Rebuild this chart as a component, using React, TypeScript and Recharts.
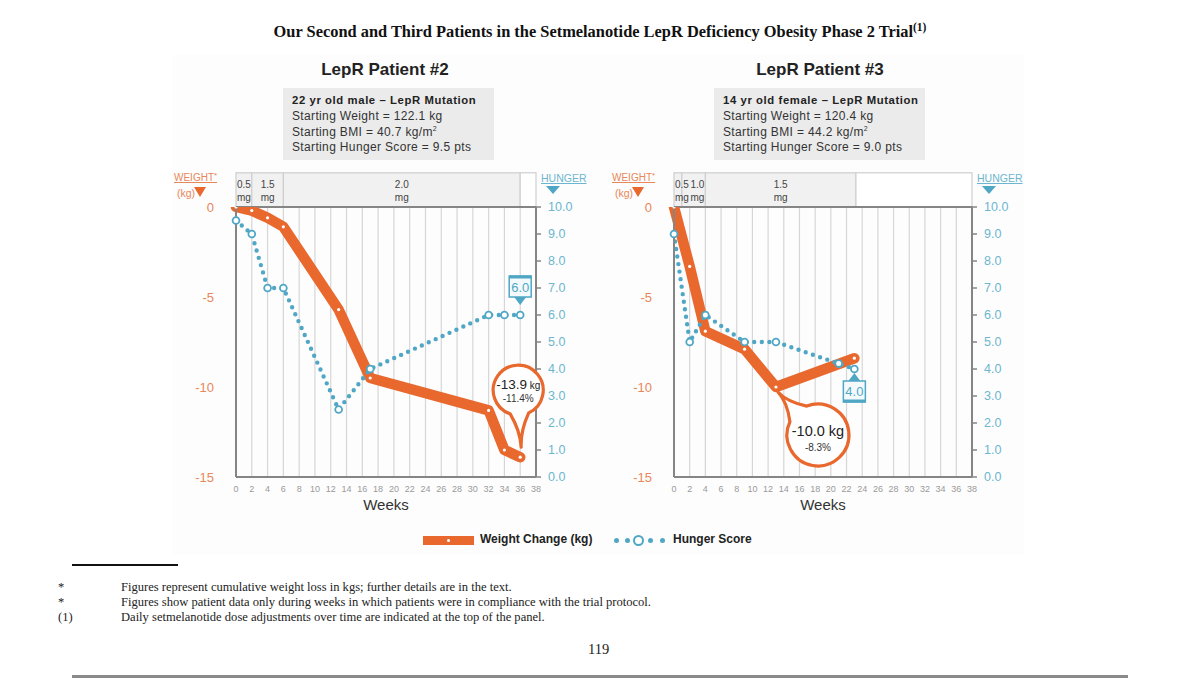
import React from 'react';
import {
  ComposedChart,
  Line,
  XAxis,
  YAxis,
  CartesianGrid,
  ReferenceArea,
  ReferenceDot,
  ReferenceLine,
} from 'recharts';

// ---------- data ----------
const weekTicks = [0, 2, 4, 6, 8, 10, 12, 14, 16, 18, 20, 22, 24, 26, 28, 30, 32, 34, 36, 38];
const weightTicks = [-15, -10, -5, 0];
const hungerTicks = [0, 1, 2, 3, 4, 5, 6, 7, 8, 9, 10];

// Patient #2
const p2WeightWeeks = [0, 2, 4, 6, 13, 17, 32, 34, 36];
const p2Weight = [0, -0.2, -0.6, -1.1, -5.7, -9.5, -11.3, -13.5, -13.9];
const p2HungerWeeks = [0, 2, 4, 6, 13, 17, 32, 34, 36];
const p2Hunger = [9.5, 9.0, 7.0, 7.0, 2.5, 4.0, 6.0, 6.0, 6.0];
const p2DoseBreaks = [0, 2, 6, 36];
const p2DoseLabels = ['0.5', '1.5', '2.0'];

// Patient #3
const p3WeightWeeks = [0, 2, 4, 9, 13, 23];
const p3Weight = [0, -3.3, -6.9, -7.9, -10.0, -8.4];
const p3HungerWeeks = [0, 2, 4, 9, 13, 21, 23];
const p3Hunger = [9.0, 5.0, 6.0, 5.0, 5.0, 4.2, 4.0];
const p3DoseBreaks = [0, 1, 4, 23.2];
const p3DoseLabels = ['0.5', '1.0', '1.5'];

const p2Info = [
  '22 yr old male \u2013 LepR Mutation',
  'Starting Weight = 122.1 kg',
  'Starting BMI = 40.7 kg/m',
  'Starting Hunger Score = 9.5 pts',
];
const p3Info = [
  '14 yr old female \u2013 LepR Mutation',
  'Starting Weight = 120.4 kg',
  'Starting BMI = 44.2 kg/m',
  'Starting Hunger Score = 9.0 pts',
];

// ---------- styles ----------
const ORANGE = '#e8682d';
const ORANGE_LIGHT = '#e8875a';
const TEAL = '#4fa7c5';
const TEAL_LIGHT = '#6cb6cf';
const AXIS = '#858585';
const FONT = '"Liberation Sans", Arial, sans-serif';
const SERIF = '"Liberation Serif", "Times New Roman", serif';
const BAND_TOP = 1.9; // kg above zero where dose band ends

function mergeData(wWeeks: number[], w: number[], hWeeks: number[], h: number[]) {
  const set = Array.from(new Set([...wWeeks, ...hWeeks])).sort((a, b) => a - b);
  return set.map((week) => {
    const wi = wWeeks.indexOf(week);
    const hi = hWeeks.indexOf(week);
    return {
      week,
      weight: wi >= 0 ? w[wi] : null,
      hunger: hi >= 0 ? h[hi] : null,
    };
  });
}

function bubblePath(R: number, tx: number, ty: number, half: number) {
  const ang = Math.atan2(ty, tx);
  const a1 = ang - half;
  const a2 = ang + half;
  const p1 = [R * Math.cos(a1), R * Math.sin(a1)];
  const p2 = [R * Math.cos(a2), R * Math.sin(a2)];
  const axis = [R * Math.cos(ang), R * Math.sin(ang)];
  const c = [(axis[0] + tx) / 2, (axis[1] + ty) / 2];
  return `M ${p2[0]} ${p2[1]} A ${R} ${R} 0 1 1 ${p1[0]} ${p1[1]} Q ${c[0]} ${c[1]} ${tx} ${ty} Q ${c[0]} ${c[1]} ${p2[0]} ${p2[1]} Z`;
}

type Callout = {
  week: number;
  value: number;
  kg: string;
  pct: string;
  dx: number;
  dy: number;
  R: number;
  tipX: number;
  tipY: number;
  big: boolean;
};

type HBox = { week: number; value: number; text: string; above: boolean };

function WeightCallout(props: any, c: Callout) {
  const { cx, cy } = props;
  if (cx == null || cy == null) return <g />;
  const ox = cx + c.dx;
  const oy = cy + c.dy;
  return (
    <g transform={`translate(${ox},${oy})`}>
      <path d={bubblePath(c.R, c.tipX, c.tipY, 0.38)} fill="#fff" stroke={ORANGE} strokeWidth={3.2} strokeLinejoin="round" />
      {c.big ? (
        <>
          <text x={0} y={1} textAnchor="middle" fontFamily={FONT} fontSize={14.5} fill="#222">
            {c.kg}
          </text>
          <text x={0} y={16} textAnchor="middle" fontFamily={FONT} fontSize={10} fill="#333">
            {c.pct}
          </text>
        </>
      ) : (
        <>
          <text x={0} y={-1} textAnchor="middle" fontFamily={FONT} fontSize={13.5} fill="#222">
            {c.kg.replace(' kg', '')}
            <tspan fontSize={10}> kg</tspan>
          </text>
          <text x={0} y={12} textAnchor="middle" fontFamily={FONT} fontSize={10} fill="#333">
            {c.pct}
          </text>
        </>
      )}
    </g>
  );
}

function HungerBox(props: any, b: HBox) {
  const { cx, cy } = props;
  if (cx == null || cy == null) return <g />;
  const w = 22;
  const h = 21;
  if (b.above) {
    const top = cy - 39;
    return (
      <g>
        <polygon points={`${cx - 6},${top + h} ${cx + 6},${top + h} ${cx},${top + h + 8}`} fill={TEAL} />
        <rect x={cx - w / 2} y={top} width={w} height={h} fill="#f4fafc" stroke={TEAL} strokeWidth={1.5} />
        <line x1={cx - w / 2} x2={cx + w / 2} y1={top + 1} y2={top + 1} stroke={TEAL} strokeWidth={3} />
        <text x={cx} y={top + 15.5} textAnchor="middle" fontFamily={FONT} fontSize={13} fill={TEAL}>
          {b.text}
        </text>
      </g>
    );
  }
  const top = cy + 12;
  return (
    <g>
      <polygon points={`${cx - 6},${top} ${cx + 6},${top} ${cx},${top - 8}`} fill={TEAL} />
      <rect x={cx - w / 2} y={top} width={w} height={h} fill="#f4fafc" stroke={TEAL} strokeWidth={1.5} />
      <line x1={cx - w / 2} x2={cx + w / 2} y1={top + h - 1} y2={top + h - 1} stroke={TEAL} strokeWidth={3} />
      <text x={cx} y={top + 15} textAnchor="middle" fontFamily={FONT} fontSize={13} fill={TEAL}>
        {b.text}
      </text>
    </g>
  );
}

function DoseRect(props: any, filled: boolean) {
  const { x, y, width, height } = props;
  if (x == null) return <g />;
  return <rect x={x} y={y} width={width} height={height} fill={filled ? '#f1f1f1' : '#ffffff'} stroke="#cfcfcf" strokeWidth={1.2} />;
}

function DoseText(props: any, label: string) {
  const { x, y, width } = props;
  if (x == null) return <g />;
  let anchor: 'start' | 'middle' | 'end' = 'middle';
  let tx = x + width / 2;
  if (width < 12) {
    anchor = 'start';
    tx = x + 1;
  } else if (width < 28) {
    anchor = 'end';
    tx = x + width - 1;
  }
  return (
    <g>
      <text x={tx} y={y + 15} textAnchor={anchor} fontFamily={FONT} fontSize={10} fill="#444">
        {label}
      </text>
      <text x={tx} y={y + 28} textAnchor={anchor} fontFamily={FONT} fontSize={10} fill="#444">
        mg
      </text>
    </g>
  );
}

const weightDot = (props: any) => {
  const { cx, cy, index } = props;
  if (cx == null || cy == null || props.value == null) return <g key={`wd${index}`} />;
  return <circle key={`wd${index}`} cx={cx} cy={cy} r={1.6} fill="#fff" />;
};
const hungerDot = (props: any) => {
  const { cx, cy, index } = props;
  if (cx == null || cy == null || props.value == null) return <g key={`hd${index}`} />;
  return <circle key={`hd${index}`} cx={cx} cy={cy} r={3.4} fill="#fff" stroke={TEAL} strokeWidth={1.8} />;
};

type PanelProps = {
  left: number;
  width: number;
  marginLeft: number;
  marginRight: number;
  data: any[];
  doseBreaks: number[];
  doseLabels: string[];
  callout: Callout;
  hbox: HBox;
};

function Panel(p: PanelProps) {
  const bands: { x1: number; x2: number; label: string | null }[] = [];
  for (let i = 0; i < p.doseLabels.length; i++) {
    bands.push({ x1: p.doseBreaks[i], x2: p.doseBreaks[i + 1], label: p.doseLabels[i] });
  }
  bands.push({ x1: p.doseBreaks[p.doseBreaks.length - 1], x2: 38, label: null });
  const plotLeft = p.left + p.marginLeft + 60;
  const plotRight = p.left + p.width - p.marginRight - 54;
  return (
    <>
      <div style={{ position: 'absolute', left: p.left, top: 160 }}>
        <ComposedChart
          width={p.width}
          height={370}
          data={p.data}
          margin={{ top: 47, right: p.marginRight, bottom: 13, left: p.marginLeft }}
        >
          <CartesianGrid vertical horizontal={false} stroke="#d6d6d6" strokeWidth={1.2} />
          <XAxis
            dataKey="week"
            type="number"
            domain={[0, 38]}
            ticks={weekTicks}
            interval={0}
            height={40}
            tickLine={false}
            axisLine={{ stroke: AXIS, strokeWidth: 2 }}
            tick={{ fontSize: 9, fill: '#9a9a9a', fontFamily: FONT }}
            tickMargin={3}
            label={{ value: 'Weeks', position: 'insideBottom', offset: 7, fontSize: 15, fill: '#333', fontFamily: FONT }}
          />
          <YAxis
            yAxisId="w"
            orientation="left"
            domain={[-15, 0]}
            ticks={weightTicks}
            width={60}
            tickLine={false}
            tickSize={8}
            tickMargin={14}
            axisLine={{ stroke: AXIS, strokeWidth: 2 }}
            tick={{ fontSize: 13, fill: ORANGE_LIGHT, fontFamily: FONT }}
            allowDataOverflow
          />
          <YAxis
            yAxisId="h"
            orientation="right"
            domain={[0, 10]}
            ticks={hungerTicks}
            width={54}
            tickSize={5}
            tickMargin={7}
            tickLine={{ stroke: AXIS, strokeWidth: 1.5 }}
            axisLine={{ stroke: AXIS, strokeWidth: 2 }}
            tick={{ fontSize: 12.5, fill: TEAL_LIGHT, fontFamily: FONT }}
            tickFormatter={(v: number) => v.toFixed(1)}
          />
          {bands.map((b, i) => (
            <ReferenceArea
              key={`band${i}`}
              yAxisId="w"
              x1={b.x1}
              x2={b.x2}
              y1={0}
              y2={BAND_TOP}
              ifOverflow="visible"
              shape={(sp: any) => DoseRect(sp, b.label != null)}
            />
          ))}
          {bands
            .filter((b) => b.label != null)
            .map((b, i) => (
              <ReferenceArea
                key={`bandtxt${i}`}
                yAxisId="w"
                x1={b.x1}
                x2={b.x2}
                y1={0}
                y2={BAND_TOP}
                ifOverflow="visible"
                shape={(sp: any) => DoseText(sp, b.label as string)}
              />
            ))}
          <ReferenceLine yAxisId="w" y={0} stroke={AXIS} strokeWidth={2} />
          <Line
            yAxisId="w"
            dataKey="weight"
            type="linear"
            stroke={ORANGE}
            strokeWidth={10.5}
            strokeLinejoin="round"
            strokeLinecap="round"
            connectNulls
            dot={weightDot}
            activeDot={false}
            isAnimationActive={false}
          />
          <Line
            yAxisId="h"
            dataKey="hunger"
            type="linear"
            stroke={TEAL}
            strokeWidth={4.4}
            strokeDasharray="0 7.6"
            strokeLinecap="round"
            connectNulls
            dot={hungerDot}
            activeDot={false}
            isAnimationActive={false}
          />
          <ReferenceDot
            yAxisId="h"
            x={p.hbox.week}
            y={p.hbox.value}
            r={0}
            ifOverflow="visible"
            shape={(sp: any) => HungerBox(sp, p.hbox)}
          />
          <ReferenceDot
            yAxisId="w"
            x={p.callout.week}
            y={p.callout.value}
            r={0}
            ifOverflow="visible"
            shape={(sp: any) => WeightCallout(sp, p.callout)}
          />
        </ComposedChart>
      </div>
      {/* axis headers */}
      <div style={{ position: 'absolute', left: plotLeft - 62, top: 172, fontFamily: FONT, fontSize: 10, color: ORANGE_LIGHT, textDecoration: 'underline', lineHeight: '12px', whiteSpace: 'nowrap' }}>
        WEIGHT<span style={{ fontSize: 8, position: 'relative', top: -3 }}>*</span>
      </div>
      <div style={{ position: 'absolute', left: plotLeft - 59, top: 187, fontFamily: FONT, fontSize: 10.5, color: ORANGE_LIGHT, lineHeight: '12px' }}>
        (kg)
      </div>
      <div style={{ position: 'absolute', left: plotLeft - 42, top: 187, width: 0, height: 0, borderLeft: '6px solid transparent', borderRight: '6px solid transparent', borderTop: `10px solid ${ORANGE}` }} />
      <div style={{ position: 'absolute', left: plotRight + 5, top: 172, fontFamily: FONT, fontSize: 10.5, color: TEAL_LIGHT, textDecoration: 'underline', lineHeight: '12px' }}>
        HUNGER
      </div>
      <div style={{ position: 'absolute', left: plotRight + 10, top: 186, width: 0, height: 0, borderLeft: '7px solid transparent', borderRight: '7px solid transparent', borderTop: `8px solid ${TEAL}` }} />
    </>
  );
}

function InfoBox({ left, title, lines, titleCenter }: { left: number; title: string; lines: string[]; titleCenter: number }) {
  return (
    <>
      <div style={{ position: 'absolute', left: titleCenter - 100, width: 200, top: 59, textAlign: 'center', fontFamily: FONT, fontWeight: 'bold', fontSize: 17, color: '#222', lineHeight: '22px' }}>
        {title}
      </div>
      <div style={{ position: 'absolute', left, top: 88, width: 211, height: 72, background: '#ebebeb' }}>
        <div style={{ position: 'absolute', left: 9, top: 5, fontFamily: FONT, fontWeight: 'bold', fontSize: 11.3, letterSpacing: 0.6, color: '#222', whiteSpace: 'nowrap', lineHeight: '14px' }}>
          {lines[0]}
        </div>
        {lines.slice(1).map((l, i) => (
          <div key={i} style={{ position: 'absolute', left: 9, top: 21 + i * 15.5, height: 14, fontFamily: FONT, fontSize: 12, letterSpacing: 0.35, color: '#333', whiteSpace: 'nowrap', lineHeight: '14px' }}>
            {l}
            {i === 1 && <span style={{ fontSize: 7, position: 'relative', top: -5 }}>2</span>}
          </div>
        ))}
      </div>
    </>
  );
}

export default function App() {
  const p2Data = mergeData(p2WeightWeeks, p2Weight, p2HungerWeeks, p2Hunger);
  const p3Data = mergeData(p3WeightWeeks, p3Weight, p3HungerWeeks, p3Hunger);
  return (
    <div style={{ position: 'absolute', left: 0, top: 0, width: 1200, height: 678, background: '#fff', overflow: 'hidden' }}>
      <div style={{ position: 'absolute', left: 0, width: 1200, top: 22, textAlign: 'center', fontFamily: SERIF, fontWeight: 'bold', fontSize: 16.4, color: '#111', lineHeight: '20px', whiteSpace: 'nowrap' }}>
        Our Second and Third Patients in the Setmelanotide LepR Deficiency Obesity Phase 2 Trial
        <span style={{ fontSize: 11.5, position: 'relative', top: -6 }}>(1)</span>
      </div>
      <div style={{ position: 'absolute', left: 172, top: 55, width: 852, height: 500, background: '#fdfdfd' }} />

      <InfoBox left={283} title="LepR Patient #2" lines={p2Info} titleCenter={385} />
      <InfoBox left={714} title="LepR Patient #3" lines={p3Info} titleCenter={820} />

      <Panel
        left={160}
        width={440}
        marginLeft={16}
        marginRight={10}
        data={p2Data}
        doseBreaks={p2DoseBreaks}
        doseLabels={p2DoseLabels}
        callout={{ week: 36, value: -13.9, kg: '-13.9 kg', pct: '-11.4%', dx: -2, dy: -67, R: 25, tipX: 3, tipY: 57, big: false }}
        hbox={{ week: 36, value: 6.0, text: '6.0', above: true }}
      />
      <Panel
        left={600}
        width={430}
        marginLeft={14}
        marginRight={4}
        data={p3Data}
        doseBreaks={p3DoseBreaks}
        doseLabels={p3DoseLabels}
        callout={{ week: 13, value: -10.0, kg: '-10.0 kg', pct: '-8.3%', dx: 42, dy: 48, R: 31, tipX: -40, tipY: -43, big: true }}
        hbox={{ week: 23, value: 4.0, text: '4.0', above: false }}
      />

      {/* legend */}
      <div style={{ position: 'absolute', left: 423, top: 536, width: 51, height: 9, background: ORANGE }} />
      <div style={{ position: 'absolute', left: 447, top: 539, width: 3, height: 3, borderRadius: 2, background: '#fff' }} />
      <div style={{ position: 'absolute', left: 480, top: 532, fontFamily: FONT, fontWeight: 'bold', fontSize: 12, color: '#222', lineHeight: '15px' }}>
        Weight Change (kg)
      </div>
      {[616, 627, 650, 662].map((x) => (
        <div key={x} style={{ position: 'absolute', left: x - 2.5, top: 538, width: 5, height: 5, borderRadius: 3, background: TEAL }} />
      ))}
      <div style={{ position: 'absolute', left: 633, top: 535, width: 7, height: 7, borderRadius: 6, border: `2px solid ${TEAL}`, background: '#fff' }} />
      <div style={{ position: 'absolute', left: 673, top: 532, fontFamily: FONT, fontWeight: 'bold', fontSize: 12, color: '#222', lineHeight: '15px' }}>
        Hunger Score
      </div>

      {/* footnotes */}
      <div style={{ position: 'absolute', left: 72, top: 564, width: 106, height: 2, background: '#111' }} />
      {[
        ['*', 'Figures represent cumulative weight loss in kgs; further details are in the text.'],
        ['*', 'Figures show patient data only during weeks in which patients were in compliance with the trial protocol.'],
        ['(1)', 'Daily setmelanotide dose adjustments over time are indicated at the top of the panel.'],
      ].map((r, i) => (
        <React.Fragment key={i}>
          <div style={{ position: 'absolute', left: 58, top: 580 + i * 15, fontFamily: SERIF, fontSize: 12.55, color: '#222', lineHeight: '14px' }}>{r[0]}</div>
          <div style={{ position: 'absolute', left: 121, top: 580 + i * 15, fontFamily: SERIF, fontSize: 12.55, color: '#222', lineHeight: '14px', whiteSpace: 'nowrap' }}>{r[1]}</div>
        </React.Fragment>
      ))}
      <div style={{ position: 'absolute', left: 588, top: 641, fontFamily: SERIF, fontSize: 14.5, color: '#222' }}>119</div>
      <div style={{ position: 'absolute', left: 72, top: 675, width: 1056, height: 3, background: '#8a8a8a' }} />
    </div>
  );
}
